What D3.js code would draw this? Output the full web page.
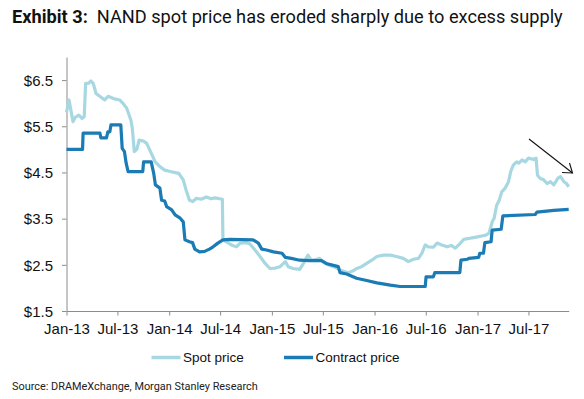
<!DOCTYPE html>
<html>
<head>
<meta charset="utf-8">
<script src="https://cdn.jsdelivr.net/npm/d3@7"></script>
<style>
  body { margin: 0; background: #fff; }
  svg { display: block; }
  .axis path, .axis line { stroke: #8c8c8c; }
  .axis text { font-family: "Liberation Sans", Arial, sans-serif; font-size: 15px; fill: #111; }
</style>
</head>
<body>
<script>
const W = 584, H = 399
const MARGINS = { top: 57, right: 15.3, bottom: 88, left: 66.5 }

const Y_TICKS = [1.5, 2.5, 3.5, 4.5, 5.5, 6.5]
const Y_DOMAIN = [1.5, 7.0]
const X_DOMAIN = ['2013-01-01', '2017-11-21']
const X_TICKS = ['2013-01-01', '2013-07-01', '2014-01-01', '2014-07-01', '2015-01-01',
  '2015-07-01', '2016-01-01', '2016-07-01', '2017-01-01', '2017-07-01']

const SERIES_NAMES = ['Spot price', 'Contract price']
const COLORS = ['#a7d8e2', '#1a7bb5']

// NAND spot price, $
const spotPrice = [
  ['2013-01-01', 5.80], ['2013-01-10', 6.07], ['2013-01-24', 5.60], ['2013-02-02', 5.70],
  ['2013-02-14', 5.74], ['2013-02-25', 5.67], ['2013-03-05', 5.71], ['2013-03-10', 6.43],
  ['2013-03-20', 6.43], ['2013-03-28', 6.48], ['2013-04-06', 6.43], ['2013-04-16', 6.21],
  ['2013-04-29', 6.15], ['2013-05-17', 6.07], ['2013-05-29', 6.15], ['2013-06-17', 6.10],
  ['2013-07-09', 6.07], ['2013-07-23', 5.98], ['2013-08-03', 5.89], ['2013-08-18', 5.63],
  ['2013-08-23', 5.45], ['2013-08-30', 4.95], ['2013-09-08', 5.00], ['2013-09-16', 5.20],
  ['2013-10-01', 5.18], ['2013-10-13', 5.13], ['2013-11-01', 4.88], ['2013-11-12', 4.73],
  ['2013-11-30', 4.62], ['2013-12-16', 4.55], ['2014-01-05', 4.52], ['2014-02-04', 4.48],
  ['2014-02-20', 4.34], ['2014-03-02', 4.12], ['2014-03-14', 3.90], ['2014-03-26', 3.87],
  ['2014-04-08', 3.94], ['2014-04-25', 3.92], ['2014-05-13', 3.97], ['2014-05-30', 3.93],
  ['2014-06-12', 3.95], ['2014-07-09', 3.92], ['2014-07-11', 3.04], ['2014-07-23', 3.00],
  ['2014-08-10', 2.93], ['2014-08-28', 2.89], ['2014-09-10', 2.97], ['2014-10-03', 2.98],
  ['2014-10-15', 2.95], ['2014-11-02', 2.82], ['2014-11-20', 2.68], ['2014-12-08', 2.53],
  ['2014-12-25', 2.42], ['2015-01-13', 2.43], ['2015-01-30', 2.46], ['2015-02-18', 2.57],
  ['2015-02-28', 2.46], ['2015-03-17', 2.42], ['2015-04-10', 2.40], ['2015-04-27', 2.57],
  ['2015-05-09', 2.71], ['2015-05-21', 2.60], ['2015-06-08', 2.62], ['2015-06-20', 2.64],
  ['2015-07-02', 2.57], ['2015-07-19', 2.50], ['2015-08-13', 2.45], ['2015-08-31', 2.39],
  ['2015-09-29', 2.33], ['2015-10-17', 2.37], ['2015-10-29', 2.42], ['2015-11-16', 2.46],
  ['2015-12-04', 2.53], ['2015-12-22', 2.60], ['2016-01-09', 2.68], ['2016-02-02', 2.71],
  ['2016-02-26', 2.71], ['2016-03-19', 2.68], ['2016-04-12', 2.64], ['2016-04-30', 2.57],
  ['2016-05-18', 2.62], ['2016-06-05', 2.64], ['2016-06-17', 2.75], ['2016-06-29', 2.93],
  ['2016-07-10', 2.89], ['2016-07-28', 2.88], ['2016-08-10', 2.97], ['2016-08-27', 2.93],
  ['2016-09-15', 2.89], ['2016-09-30', 2.92], ['2016-10-14', 2.86], ['2016-10-26', 2.93],
  ['2016-11-13', 3.05], ['2016-11-30', 3.07], ['2016-12-18', 3.09], ['2017-01-05', 3.11],
  ['2017-01-29', 3.14], ['2017-02-10', 3.18], ['2017-02-16', 3.29], ['2017-02-22', 3.43],
  ['2017-03-01', 3.51], ['2017-03-10', 3.79], ['2017-03-19', 3.90], ['2017-03-28', 4.08],
  ['2017-04-09', 4.16], ['2017-04-21', 4.30], ['2017-04-29', 4.52], ['2017-05-08', 4.66],
  ['2017-05-20', 4.73], ['2017-05-28', 4.70], ['2017-06-08', 4.77], ['2017-06-20', 4.73],
  ['2017-07-01', 4.81], ['2017-07-19', 4.78], ['2017-07-28', 4.81], ['2017-08-02', 4.44],
  ['2017-08-12', 4.37], ['2017-08-24', 4.34], ['2017-09-05', 4.26], ['2017-09-17', 4.30],
  ['2017-09-29', 4.23], ['2017-10-13', 4.37], ['2017-10-23', 4.41], ['2017-11-04', 4.30],
  ['2017-11-13', 4.26], ['2017-11-21', 4.19]
]

// NAND contract price, $
const contractPrice = [
  ['2013-01-01', 5.00], ['2013-02-27', 5.00], ['2013-03-01', 5.35], ['2013-04-30', 5.35],
  ['2013-05-03', 5.25], ['2013-05-23', 5.25], ['2013-05-28', 5.38], ['2013-06-04', 5.38],
  ['2013-06-08', 5.53], ['2013-07-13', 5.53], ['2013-07-18', 5.02], ['2013-07-26', 4.95],
  ['2013-08-01', 4.70], ['2013-08-08', 4.52], ['2013-09-29', 4.52], ['2013-10-02', 4.73],
  ['2013-10-29', 4.73], ['2013-11-07', 4.48], ['2013-11-13', 4.23], ['2013-11-29', 4.16],
  ['2013-12-05', 3.90], ['2013-12-16', 3.88], ['2013-12-23', 3.76], ['2014-01-10', 3.69],
  ['2014-01-22', 3.58], ['2014-02-09', 3.51], ['2014-02-20', 3.43], ['2014-02-26', 3.04],
  ['2014-03-14', 3.00], ['2014-03-25', 2.98], ['2014-04-02', 2.84], ['2014-04-19', 2.78],
  ['2014-05-07', 2.79], ['2014-05-24', 2.84], ['2014-06-06', 2.89], ['2014-06-23', 2.97],
  ['2014-07-11', 3.04], ['2014-08-04', 3.05], ['2014-10-26', 3.04], ['2014-11-14', 2.97],
  ['2014-11-26', 2.84], ['2014-12-13', 2.82], ['2015-01-07', 2.78], ['2015-02-06', 2.75],
  ['2015-02-18', 2.66], ['2015-03-11', 2.64], ['2015-04-10', 2.60], ['2015-05-15', 2.59],
  ['2015-06-26', 2.59], ['2015-07-13', 2.53], ['2015-08-25', 2.46], ['2015-08-31', 2.33],
  ['2015-09-24', 2.30], ['2015-10-29', 2.21], ['2015-12-04', 2.16], ['2016-01-09', 2.11],
  ['2016-02-26', 2.06], ['2016-04-01', 2.03], ['2016-06-29', 2.03], ['2016-07-02', 2.24],
  ['2016-07-28', 2.24], ['2016-08-02', 2.33], ['2016-10-30', 2.33], ['2016-11-03', 2.60],
  ['2016-11-26', 2.62], ['2016-12-01', 2.64], ['2017-01-05', 2.66], ['2017-01-09', 2.75],
  ['2017-01-22', 2.75], ['2017-01-27', 2.98], ['2017-02-18', 3.00], ['2017-02-22', 3.25],
  ['2017-03-26', 3.27], ['2017-04-01', 3.56], ['2017-07-25', 3.59], ['2017-07-31', 3.64],
  ['2017-09-29', 3.68], ['2017-11-21', 3.70]
]

const parse = d3.timeParse('%Y-%m-%d')
const fmt = d3.timeFormat('%b-%y')

const width = W - MARGINS.left - MARGINS.right
const height = H - MARGINS.top - MARGINS.bottom

const svg = d3.select('body').append('svg')
  .attr('width', W)
  .attr('height', H)

// title
const title = svg.append('text')
  .attr('x', 12)
  .attr('y', 23)
  .style('font-family', 'Roboto, sans-serif')
  .style('font-size', '18.2px')
  .attr('fill', '#111')
title.append('tspan').attr('font-weight', 'bold').text('Exhibit 3:')
title.append('tspan').text('\u00a0 NAND spot price has eroded sharply due to excess supply')

const g = svg.append('g')
  .attr('transform', 'translate(' + [MARGINS.left, MARGINS.top] + ')')

const x = d3.scaleTime()
  .domain(X_DOMAIN.map(parse))
  .range([0, width])

const y = d3.scaleLinear()
  .domain(Y_DOMAIN)
  .range([height, 0])

g.append('g')
  .attr('class', 'x axis')
  .attr('transform', 'translate(0,' + height + ')')
  .call(d3.axisBottom(x).tickValues(X_TICKS.map(parse)).tickFormat(fmt).tickSize(4.5).tickSizeOuter(0))
  .call((a) => a.selectAll('text').attr('dy', '0.95em').attr('y', 9))

g.append('g')
  .attr('class', 'y axis')
  .call(d3.axisLeft(y).tickValues(Y_TICKS).tickFormat((d) => '$' + d3.format('.1f')(d)).tickSize(4.5).tickSizeOuter(0))
  .call((a) => a.selectAll('text').attr('x', -13.5).attr('dy', '0.35em'))

const line = d3.line()
  .x((d) => x(parse(d[0])))
  .y((d) => y(d[1]))

g.append('path')
  .attr('d', line(spotPrice))
  .attr('fill', 'none')
  .attr('stroke', COLORS[0])
  .attr('stroke-width', 3.2)
  .attr('stroke-linejoin', 'round')

g.append('path')
  .attr('d', line(contractPrice))
  .attr('fill', 'none')
  .attr('stroke', COLORS[1])
  .attr('stroke-width', 3.2)
  .attr('stroke-linejoin', 'round')

// arrow pointing at the latest decline
const arrow = svg.append('g')
  .attr('stroke', '#111')
  .attr('stroke-width', 1.1)
  .attr('fill', 'none')
arrow.append('line').attr('x1', 529).attr('y1', 139).attr('x2', 572.5).attr('y2', 173)
arrow.append('path').attr('d', 'M562 172.5L572.5 173L569.5 163')

// legend
const legend = svg.append('g')
  .selectAll('g')
  .data(SERIES_NAMES)
  .enter().append('g')
  .attr('transform', (d, i) => 'translate(' + [[151.5, 284][i], 357.5] + ')')

legend.append('line')
  .attr('x1', 0).attr('x2', 29)
  .attr('stroke', (d, i) => COLORS[i])
  .attr('stroke-width', 3.5)

legend.append('text')
  .attr('x', 31.5)
  .attr('dy', '0.35em')
  .style('font-family', '"Liberation Sans", Arial, sans-serif')
  .style('font-size', '13.5px')
  .attr('fill', '#111')
  .text((d) => d)

// source
svg.append('text')
  .attr('x', 12)
  .attr('y', 390)
  .style('font-family', 'Roboto, sans-serif')
  .style('font-size', '10.9px')
  .attr('fill', '#222')
  .text('Source: DRAMeXchange, Morgan Stanley Research')
</script>
</body>
</html>
